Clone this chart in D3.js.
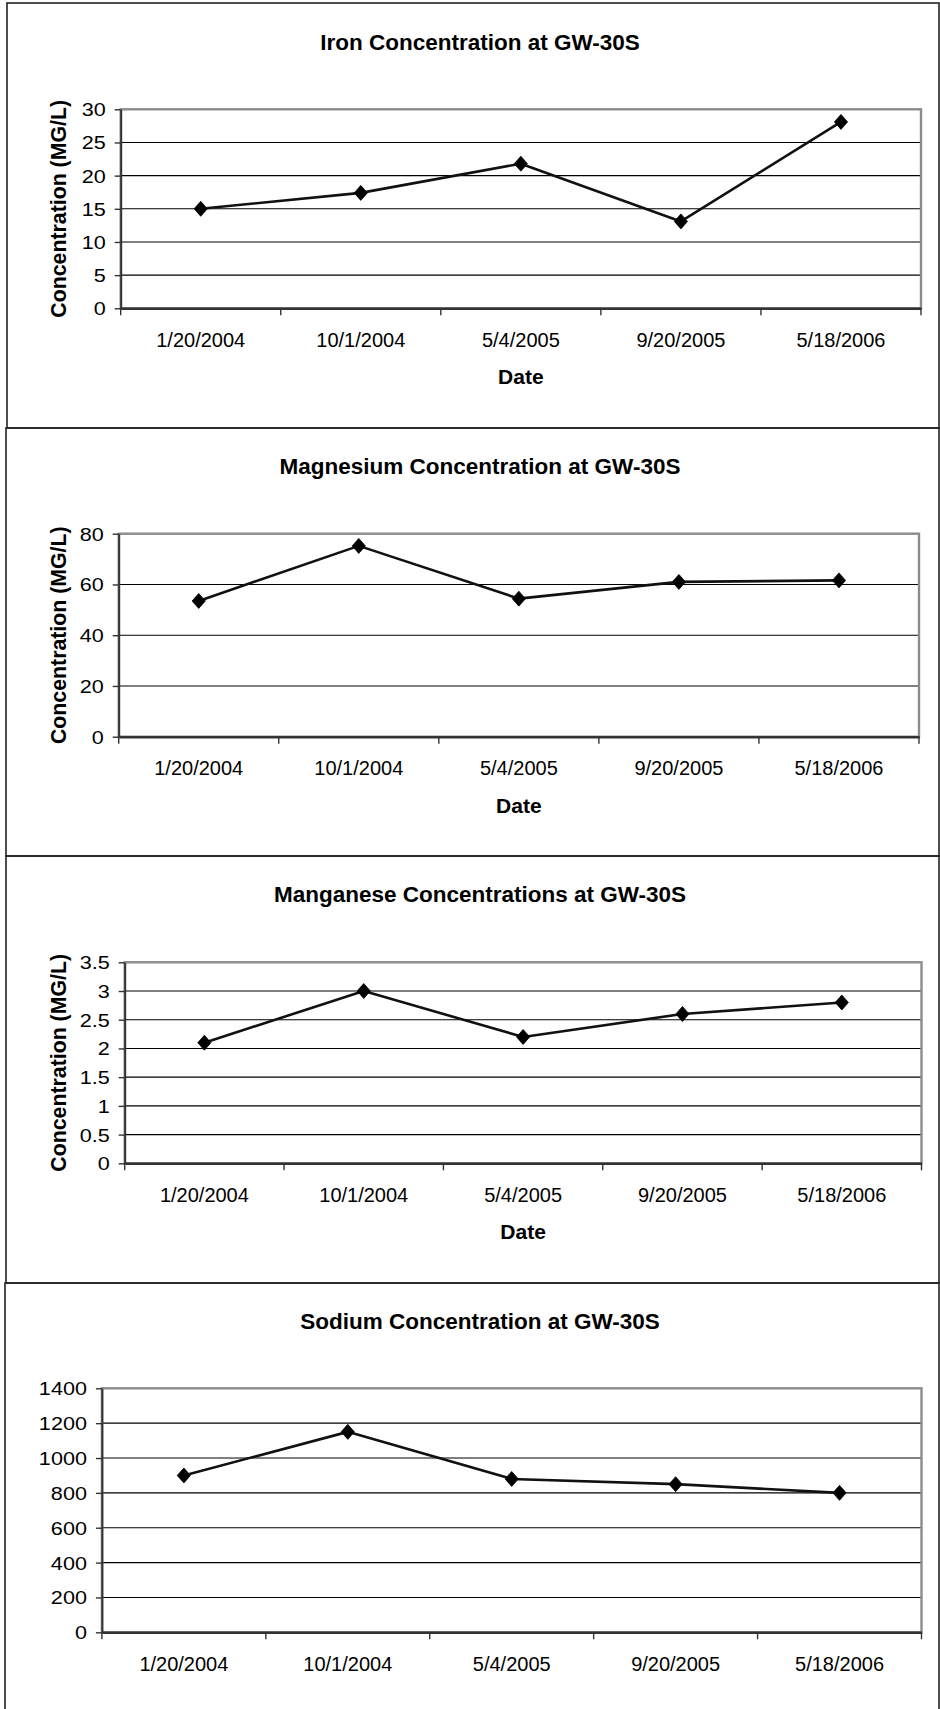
<!DOCTYPE html>
<html>
<head>
<meta charset="utf-8">
<title>GW-30S Concentrations</title>
<script src="https://cdn.jsdelivr.net/npm/d3@7"></script>
<style>
  html, body { margin: 0; padding: 0; background: #fff; }
  svg { display: block; }
</style>
</head>
<body>
<svg id="page" width="940" height="1709"></svg>
<script>
// ---- data -------------------------------------------------------------
const dates = ["1/20/2004", "10/1/2004", "5/4/2005", "9/20/2005", "5/18/2006"];

const ironValues      = [15.0, 17.4, 21.8, 13.1, 28.1];
const magnesiumValues = [53.5, 75.2, 54.4, 61.0, 61.6];
const manganeseValues = [2.1, 3.0, 2.2, 2.6, 2.8];
const sodiumValues    = [900, 1150, 880, 850, 800];

const ironTicks      = [0, 5, 10, 15, 20, 25, 30];
const magnesiumTicks = [0, 20, 40, 60, 80];
const manganeseTicks = [0, 0.5, 1, 1.5, 2, 2.5, 3, 3.5];
const sodiumTicks    = [0, 200, 400, 600, 800, 1000, 1200, 1400];

const titles = [
  "Iron Concentration at GW-30S",
  "Magnesium Concentration at GW-30S",
  "Manganese Concentrations at GW-30S",
  "Sodium Concentration at GW-30S"
];
const yAxisTitle = "Concentration (MG/L)";
const xAxisTitle = "Date";

// ---- layout -----------------------------------------------------------
const FONT = "'Liberation Sans', Arial, Helvetica, sans-serif";

const panels = [
  { title: titles[0], values: ironValues, ticks: ironTicks,
    frame: { x: 7, y: 3, bottom: 428 },
    plot: { l: 120.7, t: 109.3, r: 921, b: 308.3 },
    titleY: 50, showYTitle: true, showXTitle: true },
  { title: titles[1], values: magnesiumValues, ticks: magnesiumTicks,
    frame: { x: 6, y: 428, bottom: 856 },
    plot: { l: 118.7, t: 533.7, r: 919, b: 736.7 },
    titleY: 474, showYTitle: true, showXTitle: true },
  { title: titles[2], values: manganeseValues, ticks: manganeseTicks,
    frame: { x: 6, y: 856, bottom: 1283 },
    plot: { l: 124.7, t: 962.3, r: 921.5, b: 1163.3 },
    titleY: 902, showYTitle: true, showXTitle: true },
  { title: titles[3], values: sodiumValues, ticks: sodiumTicks,
    frame: { x: 5, y: 1283, bottom: 1720 },
    plot: { l: 101.9, t: 1388.3, r: 921.5, b: 1632.3 },
    titleY: 1329, showYTitle: false, showXTitle: false }
];

const FRAME_RIGHT = 939;
const TITLE_X = 480;

const svg = d3.select("#page");

// outer frames (drawn first so each panel's top edge sits over the previous one)
panels.forEach(p => {
  svg.append("rect")
    .attr("x", p.frame.x)
    .attr("y", p.frame.y)
    .attr("width", FRAME_RIGHT - p.frame.x)
    .attr("height", p.frame.bottom - p.frame.y)
    .attr("fill", "none")
    .attr("stroke", "#222")
    .attr("stroke-width", 1.6);
});

// diamond marker
const diamond = "M0,-7.5L6.6,0L0,7.5L-6.6,0Z";

panels.forEach(p => {
  const g = svg.append("g");
  const { l, t, r, b } = p.plot;

  const x = d3.scaleBand().domain(dates).range([l, r]).padding(0);
  const yMax = d3.max(p.ticks);
  const y = d3.scaleLinear().domain([0, yMax]).range([b, t]);
  const cx = d => x(d) + x.bandwidth() / 2;

  // chart title
  g.append("text")
    .attr("x", TITLE_X)
    .attr("y", p.titleY)
    .attr("text-anchor", "middle")
    .attr("font-family", FONT)
    .attr("font-weight", "bold")
    .attr("font-size", 22.5)
    .attr("fill", "#000")
    .text(p.title);

  // horizontal gridlines
  g.append("g")
    .selectAll("line")
    .data(p.ticks.filter(v => v > 0 && v < yMax))
    .join("line")
    .attr("x1", l).attr("x2", r)
    .attr("y1", d => y(d)).attr("y2", d => y(d))
    .attr("stroke", "#000")
    .attr("stroke-width", 1.1);

  // plot area border (grey)
  g.append("rect")
    .attr("x", l).attr("y", t)
    .attr("width", r - l).attr("height", b - t)
    .attr("fill", "none")
    .attr("stroke", "#8c8c8c")
    .attr("stroke-width", 2.4);

  // y axis
  const yAxis = d3.axisLeft(y)
    .tickValues(p.ticks)
    .tickSize(6)
    .tickSizeOuter(0)
    .tickFormat(d => String(d));
  const yg = g.append("g")
    .attr("transform", `translate(${l},0)`)
    .call(yAxis);
  yg.select(".domain").attr("stroke", "#333").attr("stroke-width", 2);
  yg.selectAll(".tick line").attr("stroke", "#333").attr("stroke-width", 1.4);
  yg.selectAll(".tick text")
    .attr("font-family", FONT)
    .attr("font-size", 18)
    .attr("fill", "#000")
    .attr("x", -15 / 1.2)
    .attr("dy", "0.36em")
    .attr("transform", "scale(1.2,1)");

  // x axis: labels centred in each band, ticks on band boundaries
  const xAxis = d3.axisBottom(x).tickSize(0).tickSizeOuter(0);
  const xg = g.append("g")
    .attr("transform", `translate(0,${b})`)
    .call(xAxis);
  xg.select(".domain").attr("stroke", "#333").attr("stroke-width", 2.6);
  xg.selectAll(".tick text")
    .attr("font-family", FONT)
    .attr("font-size", 20)
    .attr("fill", "#000")
    .attr("y", 38.5)
    .attr("dy", 0);

  const bounds = dates.map(d => x(d)).concat([x.range()[1]]);
  xg.selectAll("line.boundary")
    .data(bounds)
    .join("line")
    .attr("class", "boundary")
    .attr("x1", d => d).attr("x2", d => d)
    .attr("y1", 0).attr("y2", 7)
    .attr("stroke", "#333")
    .attr("stroke-width", 1.4);

  // axis titles
  if (p.showXTitle) {
    g.append("text")
      .attr("x", (l + r) / 2)
      .attr("y", b + 76)
      .attr("text-anchor", "middle")
      .attr("font-family", FONT)
      .attr("font-weight", "bold")
      .attr("font-size", 21)
      .attr("fill", "#000")
      .text(xAxisTitle);
  }
  if (p.showYTitle) {
    g.append("text")
      .attr("transform", `translate(66,${(t + b) / 2}) rotate(-90)`)
      .attr("text-anchor", "middle")
      .attr("font-family", FONT)
      .attr("font-weight", "bold")
      .attr("font-size", 21.3)
      .attr("fill", "#000")
      .text(yAxisTitle);
  }

  // data line
  const line = d3.line()
    .x((v, i) => cx(dates[i]))
    .y(v => y(v));
  g.append("path")
    .datum(p.values)
    .attr("d", line)
    .attr("fill", "none")
    .attr("stroke", "#111")
    .attr("stroke-width", 2.6)
    .attr("stroke-linejoin", "round");

  // markers
  g.append("g")
    .selectAll("path")
    .data(p.values)
    .join("path")
    .attr("d", diamond)
    .attr("transform", (v, i) => `translate(${cx(dates[i])},${y(v)})`)
    .attr("fill", "#000")
    .attr("stroke", "#000")
    .attr("stroke-width", 0.8);
});
</script>
</body>
</html>
